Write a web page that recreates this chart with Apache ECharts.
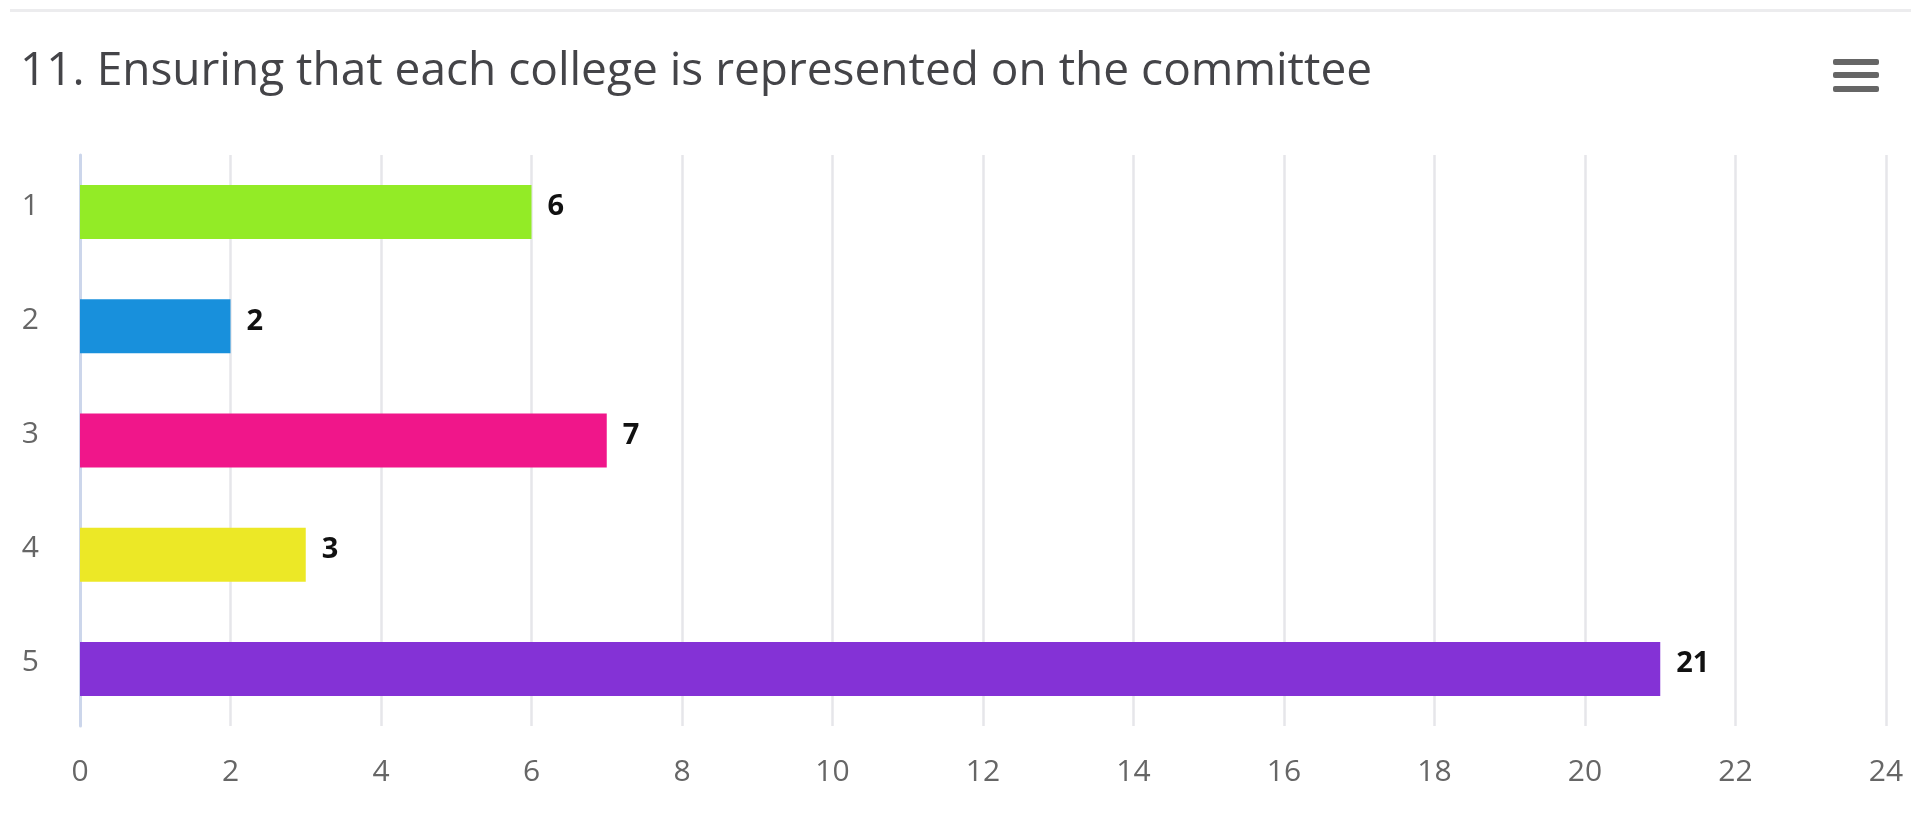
<!DOCTYPE html>
<html>
<head>
<meta charset="utf-8">
<title>11. Ensuring that each college is represented on the committee</title>
<script src="https://cdn.jsdelivr.net/npm/echarts@6/dist/echarts.min.js"></script>
<style>
  html, body { margin: 0; padding: 0; background: #ffffff; }
  #chart { width: 1911px; height: 835px; }
</style>
</head>
<body>
<div id="chart"></div>
<script>
// Survey question 11: number of responses per rating (1–5)
const chartTitle = '11. Ensuring that each college is represented on the committee';
const categories = ['1', '2', '3', '4', '5'];
const responses = [6, 2, 7, 3, 21];
const barColors = ['#93eb26', '#1890dc', '#f0168a', '#ece826', '#8432d6'];
const axisMax = 24;
const axisStep = 2;

const fontFamily = '"Open Sans", "DejaVu Sans", sans-serif';

const chart = echarts.init(document.getElementById('chart'), null, { renderer: 'canvas' });

chart.setOption({
  backgroundColor: '#ffffff',
  animation: false,
  title: {
    text: chartTitle,
    left: 20,
    top: 45,
    padding: 0,
    textStyle: {
      fontFamily: fontFamily,
      fontSize: 46,
      fontWeight: 'normal',
      color: '#444448',
      lineHeight: 54
    }
  },
  graphic: [
    // thin separator along the top of the panel
    { type: 'rect', left: 10, top: 9, shape: { width: 1901, height: 3 }, style: { fill: '#ececee' } },
    // context-menu (hamburger) button
    {
      type: 'group', left: 1833, top: 59,
      children: [
        { type: 'rect', shape: { x: 0, y: 0, width: 46, height: 6, r: 2 }, style: { fill: '#666666' } },
        { type: 'rect', shape: { x: 0, y: 13, width: 46, height: 6, r: 2 }, style: { fill: '#666666' } },
        { type: 'rect', shape: { x: 0, y: 27, width: 46, height: 6, r: 2 }, style: { fill: '#666666' } }
      ]
    }
  ],
  grid: {
    left: 80,
    right: 25,
    top: 155,
    bottom: 109,
    containLabel: false
  },
  xAxis: {
    type: 'value',
    min: 0,
    max: axisMax,
    interval: axisStep,
    axisLine: { show: false },
    axisTick: { show: false },
    splitLine: { show: true, lineStyle: { color: '#e6e6ea', width: 2.5 } },
    axisLabel: {
      fontFamily: fontFamily,
      fontSize: 30,
      color: '#666666',
      margin: 31
    }
  },
  yAxis: {
    type: 'category',
    inverse: true,
    data: categories,
    axisLine: { show: true, lineStyle: { color: '#ccd6eb', width: 3 } },
    axisTick: { show: false },
    splitLine: { show: false },
    axisLabel: {
      fontFamily: fontFamily,
      fontSize: 30,
      color: '#666666',
      margin: 41,
      verticalAlign: 'bottom',
      lineHeight: 12
    }
  },
  series: [{
    type: 'bar',
    barWidth: 54,
    data: responses.map((v, i) => ({ value: v, itemStyle: { color: barColors[i] } })),
    label: {
      show: true,
      position: 'right',
      distance: 16,
      offset: [0, -5],
      fontFamily: fontFamily,
      fontSize: 29,
      fontWeight: 'bold',
      color: '#111111',
      textBorderColor: '#ffffff',
      textBorderWidth: 2
    }
  }]
});
</script>
</body>
</html>
